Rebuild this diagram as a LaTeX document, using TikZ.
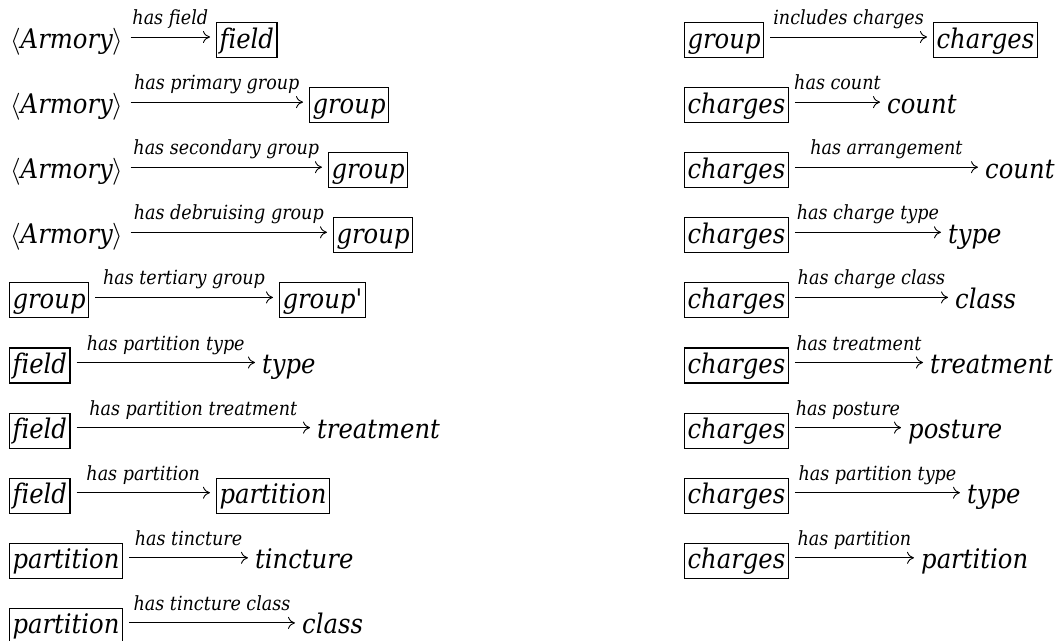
\documentclass[tikz,border=0pt]{standalone}
\usepackage{unicode-math}
\setmainfont{DejaVu Serif Condensed}[Ligatures=NoCommon]
\usetikzlibrary{arrows.meta,positioning}

\tikzset{
  term/.style={anchor=west, font=\fontsize{27}{33}\selectfont\itshape,
    inner xsep=1pt, inner ysep=2pt, text height=23.5pt, text depth=7.5pt},
  cls/.style={term, draw, line width=1.1pt, inner xsep=3pt},
  prop/.style={font=\fontsize{19.5}{23}\selectfont\itshape, inner sep=0pt,
    text depth=12pt, above},
  rel/.style={-{To[length=7pt,width=12pt]}, line width=0.9pt,
    shorten <=6pt, shorten >=6pt},
}

\begin{document}
\begin{tikzpicture}[x=1pt,y=-1pt]
  \path[use as bounding box] (0,0) rectangle (1059,640);

  % left column
  \node[term] (arm1)  at (9,40)      {\(\langle\)Armory\(\rangle\)};
  \node[cls]  (fld1)  at (216,40)    {field};
  \node[term] (arm2)  at (9,105.1)   {\(\langle\)Armory\(\rangle\)};
  \node[cls]  (grp2)  at (309,105.1) {group};
  \node[term] (arm3)  at (9,170.2)   {\(\langle\)Armory\(\rangle\)};
  \node[cls]  (grp3)  at (328,170.2) {group};
  \node[term] (arm4)  at (9,235.3)   {\(\langle\)Armory\(\rangle\)};
  \node[cls]  (grp4)  at (333,235.3) {group};
  \node[cls]  (grp5)  at (9,300.4)   {group};
  \node[cls]  (grpp5) at (279,300.4) {group\textquotesingle};
  \node[cls]  (fld6)  at (9,365.5)   {field};
  \node[term] (typ6)  at (261,365.5) {type};
  \node[cls]  (fld7)  at (9,430.6)   {field};
  \node[term] (trt7)  at (316,430.6) {treatment};
  \node[cls]  (fld8)  at (9,495.7)   {field};
  \node[cls]  (prt8)  at (216,495.7) {partition};
  \node[cls]  (prt9)  at (9,560.8)   {partition};
  \node[term] (tin9)  at (254,560.8) {tincture};
  \node[cls]  (prt10) at (9,625.9)   {partition};
  \node[term] (cls10) at (301,625.9) {class};

  % right column
  \node[cls]  (rgrp1) at (684,40)    {group};
  \node[cls]  (rchg1) at (933,40)    {charges};
  \node[cls]  (rchg2) at (684,105.1) {charges};
  \node[term] (rcnt2) at (886,105.1) {count};
  \node[cls]  (rchg3) at (684,170.2) {charges};
  \node[term] (rcnt3) at (984,170.2) {count};
  \node[cls]  (rchg4) at (684,235.3) {charges};
  \node[term] (rtyp4) at (947,235.3) {type};
  \node[cls]  (rchg5) at (684,300.4) {charges};
  \node[term] (rcls5) at (954,300.4) {class};
  \node[cls]  (rchg6) at (684,365.5) {charges};
  \node[term] (rtrt6) at (929,365.5) {treatment};
  \node[cls]  (rchg7) at (684,430.6) {charges};
  \node[term] (rpos7) at (907,430.6) {posture};
  \node[cls]  (rchg8) at (684,495.7) {charges};
  \node[term] (rtyp8) at (966,495.7) {type};
  \node[cls]  (rchg9) at (684,560.8) {charges};
  \node[term] (rprt9) at (920,560.8) {partition};

  \begin{scope}[transform canvas={yshift=3pt}]
  \path[rel]
  (arm1)  edge node[prop] {has field}               (fld1)
  (arm2)  edge node[prop] {has primary group}       (grp2)
  (arm3)  edge node[prop] {has secondary group}     (grp3)
  (arm4)  edge node[prop] {has debruising group}    (grp4)
  (grp5)  edge node[prop] {has tertiary group}      (grpp5)
  (fld6)  edge node[prop] {has partition type}      (typ6)
  (fld7)  edge node[prop] {has partition treatment} (trt7)
  (fld8)  edge node[prop] {has partition}           (prt8)
  (prt9)  edge node[prop] {has tincture}            (tin9)
  (prt10) edge node[prop] {has tincture class}      (cls10)
  (rgrp1) edge node[prop] {includes charges}        (rchg1)
  (rchg2) edge node[prop] {has count}               (rcnt2)
  (rchg3) edge node[prop] {has arrangement}         (rcnt3)
  (rchg4) edge node[prop] {has charge type}         (rtyp4)
  (rchg5) edge node[prop] {has charge class}        (rcls5)
  (rchg6) edge node[prop] {has treatment}           (rtrt6)
  (rchg7) edge node[prop] {has posture}             (rpos7)
  (rchg8) edge node[prop] {has partition type}      (rtyp8)
  (rchg9) edge node[prop] {has partition}           (rprt9);
  \end{scope}
\end{tikzpicture}
\end{document}
